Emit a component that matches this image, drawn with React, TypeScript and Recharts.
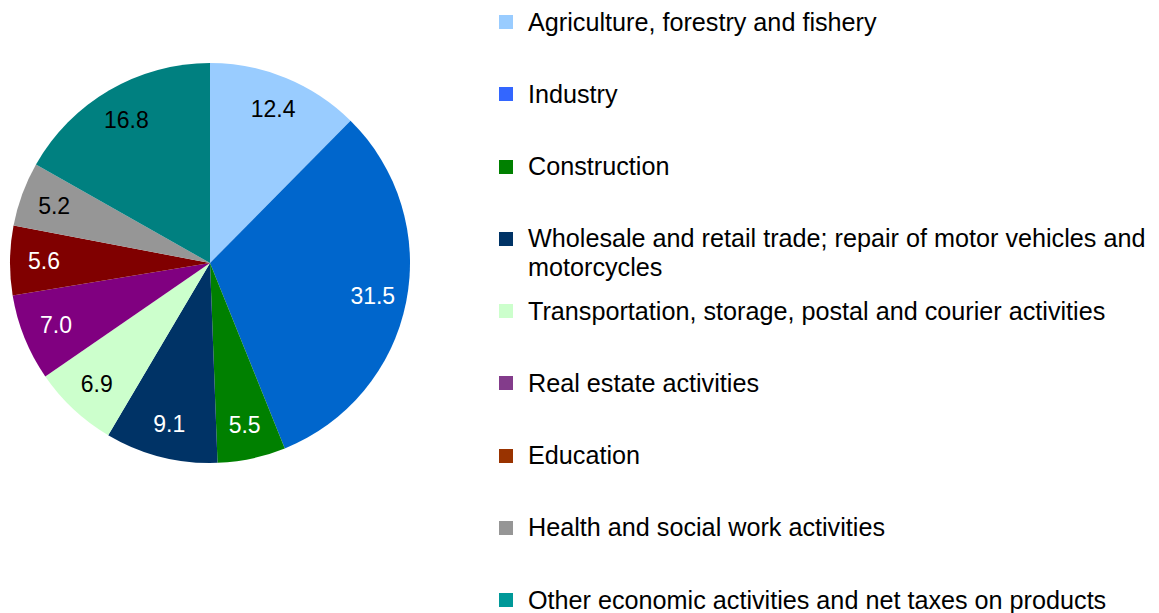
import { PieChart, Pie, Cell } from 'recharts';

const categories = [
  'Agriculture, forestry and fishery',
  'Industry',
  'Construction',
  'Wholesale and retail trade; repair of motor vehicles and motorcycles',
  'Transportation, storage, postal and courier activities',
  'Real estate activities',
  'Education',
  'Health and social work activities',
  'Other economic activities and net taxes on products',
];

const shares = [12.4, 31.5, 5.5, 9.1, 6.9, 7.0, 5.6, 5.2, 16.8];

const sliceColors = ['#99ccff', '#0066cc', '#008000', '#003366', '#ccffcc', '#800080', '#800000', '#969696', '#008080'];
const legendColors = ['#99ccff', '#3366ff', '#008000', '#003366', '#ccffcc', '#833c8b', '#993300', '#969696', '#009999'];
const labelColors = ['#000', '#fff', '#fff', '#fff', '#000', '#fff', '#fff', '#000', '#000'];

const data = categories.map((name, i) => ({ name, value: shares[i] }));

const FONT = '"Liberation Sans", Arial, sans-serif';
const RAD = Math.PI / 180;

const renderLabel = (props: any) => {
  const { cx, cy, midAngle, outerRadius, index, value } = props;
  const r = outerRadius * 0.83;
  const x = cx + r * Math.cos(-midAngle * RAD);
  const y = cy + r * Math.sin(-midAngle * RAD);
  return (
    <text x={x} y={y} fill={labelColors[index]} textAnchor="middle" dominantBaseline="central"
      style={{ fontFamily: FONT, fontSize: 23 }}>
      {value.toFixed(1)}
    </text>
  );
};

const LegendList = () => (
  <div style={{ position: 'absolute', left: 499, top: 7.5, fontFamily: FONT, fontSize: 25.2, color: '#000', width: 660 }}>
    {categories.map((c, i) => (
      <div key={c} style={{ display: 'flex', alignItems: 'flex-start', height: 72.25 }}>
        <div style={{ width: 14, height: 14, marginTop: 7.5, background: legendColors[i], flexShrink: 0 }} />
        <div style={{ marginLeft: 15, lineHeight: '29px', width: 630 }}>{c}</div>
      </div>
    ))}
  </div>
);

export default function App() {
  return (
    <div style={{ position: 'absolute', left: 0, top: 0, width: 1159, height: 613, background: '#fff' }}>
      <PieChart width={420} height={470} margin={{ top: 0, right: 0, bottom: 0, left: 0 }}>
        <Pie data={data} dataKey="value" nameKey="name" cx={210} cy={263} outerRadius={200}
          startAngle={90} endAngle={-270} stroke="none" label={renderLabel} labelLine={false}
          isAnimationActive={false}>
          {data.map((d, i) => <Cell key={d.name} fill={sliceColors[i]} />)}
        </Pie>
      </PieChart>
      <LegendList />
    </div>
  );
}
